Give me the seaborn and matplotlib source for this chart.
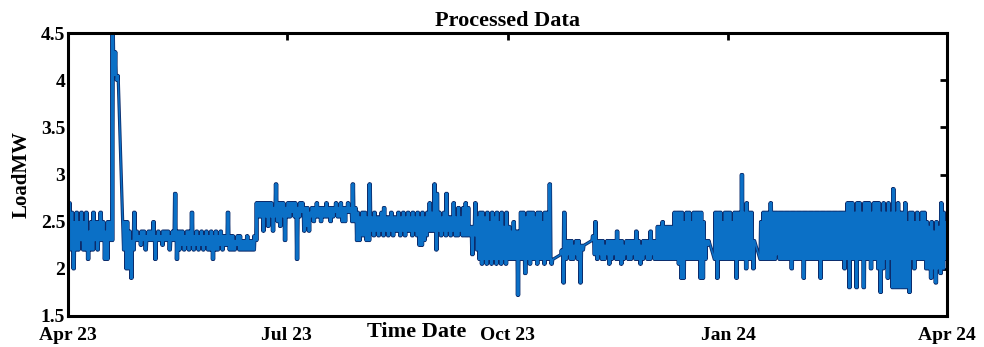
import numpy as np
import pandas as pd
import matplotlib
matplotlib.use("Agg")
import matplotlib.pyplot as plt
import matplotlib.dates as mdates
import matplotlib.patheffects as pe
import seaborn as sns

# Daily load envelope (MW), one entry per day from 1 Apr 2023; NaN marks days without records
start_date = "2023-04-01"
nan = np.nan
daily_low = [
    2.3, 2.2, 2.0, 2.2, 2.2, 2.3, 2.2, 2.2, 2.1, 2.2,
    2.2, 2.3, 2.2, 2.3, 2.3, 2.1, 2.1, 2.3, 2.3, 4.05,
    4.0, nan, nan, 2.2, 2.0, 2.0, 1.9, 2.2, 2.3, 2.3,
    2.25, 2.3, 2.2, 2.3, 2.3, 2.3, 2.1, 2.3, 2.3, 2.25,
    2.3, 2.3, 2.2, 2.3, 2.3, 2.1, 2.2, 2.25, 2.2, 2.25,
    2.2, 2.25, 2.2, 2.25, 2.2, 2.25, 2.2, 2.25, 2.2, 2.2,
    2.1, 2.2, 2.2, 2.25, 2.2, 2.25, 2.25, 2.2, 2.2, 2.2,
    2.25, 2.2, 2.2, 2.2, 2.2, 2.2, 2.2, 2.2, 2.3, 2.55,
    2.55, 2.4, 2.55, 2.45, 2.55, 2.4, 2.55, 2.5, 2.45, 2.55,
    2.3, 2.55, 2.55, 2.6, 2.55, 2.1, 2.55, 2.6, 2.4, 2.45,
    2.4, 2.55, 2.5, 2.55, 2.55, 2.5, 2.55, 2.55, 2.55, 2.5,
    2.55, 2.6, 2.55, 2.55, 2.5, 2.5, 2.6, 2.6, 2.5, 2.5,
    2.3, 2.3, 2.35, 2.35, 2.3, 2.3, 2.4, 2.35, 2.4, 2.35,
    2.4, 2.35, 2.4, 2.35, 2.4, 2.35, 2.4, 2.4, 2.35, 2.4,
    2.35, 2.4, 2.4, 2.35, 2.4, 2.35, 2.25, 2.25, 2.3, 2.35,
    2.4, 2.4, 2.4, 2.2, 2.4, 2.35, 2.4, 2.35, 2.4, 2.35,
    2.4, 2.35, 2.35, 2.4, 2.35, 2.35, 2.35, 2.35, 2.15, 2.35,
    2.2, 2.1, 2.05, 2.1, 2.05, 2.1, 2.05, 2.1, 2.05, 2.1,
    2.05, 2.1, 2.05, 2.1, 2.1, 2.1, 2.1, 1.72, 2.1, 2.1,
    1.95, 2.1, 2.05, 2.1, 2.1, 2.05, 2.1, 2.1, 2.05, 2.1,
    2.1, 2.05, nan, nan, nan, 2.15, 1.85, 2.1, 2.15, 2.1,
    2.1, 2.15, 2.1, 1.85, 2.2, nan, nan, nan, 2.3, 2.15,
    2.1, 2.15, 2.1, 2.1, 2.15, 2.05, 2.1, 2.15, 2.1, 2.1,
    2.05, 2.1, 2.15, 2.1, 2.1, 2.15, 2.1, 2.1, 2.05, 2.1,
    2.15, 2.1, 2.1, 2.15, 2.1, 2.1, 2.1, 2.1, 2.1, 2.1,
    2.1, 2.1, 2.1, 2.1, 2.05, 1.9, 1.9, 2.1, 2.1, 2.1,
    2.1, 2.1, 2.1, 1.9, 1.9, 2.1, 2.25, nan, nan, 2.1,
    1.9, 2.1, 2.1, 2.1, 2.1, 2.1, 2.1, 2.1, 1.9, 2.1,
    2.1, 2.1, 2.0, 2.1, 2.1, 2.0, nan, nan, 2.1, 2.1,
    2.1, 2.1, 2.1, 2.1, 2.1, 2.15, 2.1, 2.1, 2.1, 2.1,
    2.1, 2.0, 2.1, 2.1, 2.1, 2.1, 1.9, 2.1, 2.1, 2.1,
    2.1, 2.1, 2.1, 1.9, 2.1, 2.1, 2.1, 2.1, 2.1, 2.1,
    2.1, 2.1, 2.1, 2.0, 2.1, 1.8, 2.1, 2.1, 1.8, 2.1,
    2.1, 1.8, 2.1, 2.1, 2.0, 2.1, 2.1, 2.0, 1.75, 2.0,
    2.1, 1.9, 2.1, 1.8, 1.8, 1.8, 1.8, 1.8, 1.8, 1.8,
    1.75, 2.1, 2.0, 2.1, 2.1, 2.1, 2.1, 2.0, 2.0, 1.9,
    2.0, 1.85, 2.0, 1.95, 2.0, 2.1,
]
daily_high = [
    2.7, 2.6, 2.5, 2.6, 2.5, 2.6, 2.5, 2.6, 2.4, 2.5,
    2.6, 2.5, 2.5, 2.6, 2.5, 2.4, 2.5, 2.5, 4.5, 4.3,
    4.05, nan, nan, 2.5, 2.5, 2.4, 2.3, 2.6, 2.4, 2.35,
    2.4, 2.4, 2.35, 2.4, 2.4, 2.5, 2.35, 2.4, 2.35, 2.4,
    2.4, 2.4, 2.35, 2.4, 2.8, 2.4, 2.4, 2.4, 2.35, 2.4,
    2.4, 2.6, 2.35, 2.4, 2.35, 2.4, 2.35, 2.4, 2.35, 2.4,
    2.35, 2.4, 2.35, 2.4, 2.35, 2.35, 2.6, 2.35, 2.35, 2.3,
    2.35, 2.35, 2.3, 2.3, 2.35, 2.3, 2.3, 2.35, 2.7, 2.7,
    2.7, 2.7, 2.7, 2.7, 2.7, 2.65, 2.9, 2.7, 2.7, 2.7,
    2.65, 2.7, 2.7, 2.7, 2.7, 2.65, 2.7, 2.7, 2.65, 2.65,
    2.6, 2.65, 2.65, 2.7, 2.65, 2.65, 2.65, 2.7, 2.65, 2.65,
    2.65, 2.7, 2.65, 2.7, 2.65, 2.65, 2.7, 2.65, 2.9, 2.65,
    2.6, 2.55, 2.6, 2.6, 2.55, 2.9, 2.55, 2.6, 2.55, 2.55,
    2.6, 2.65, 2.55, 2.55, 2.6, 2.55, 2.55, 2.6, 2.55, 2.6,
    2.55, 2.6, 2.55, 2.6, 2.55, 2.6, 2.55, 2.6, 2.55, 2.6,
    2.7, 2.6, 2.9, 2.8, 2.6, 2.55, 2.6, 2.8, 2.55, 2.55,
    2.7, 2.55, 2.65, 2.55, 2.65, 2.7, 2.65, 2.45, 2.45, 2.7,
    2.55, 2.6, 2.6, 2.55, 2.6, 2.5, 2.6, 2.55, 2.6, 2.5,
    2.6, 2.45, 2.6, 2.45, 2.4, 2.5, 2.4, 2.4, 2.6, 2.6,
    2.55, 2.6, 2.6, 2.6, 2.55, 2.6, 2.6, 2.5, 2.6, 2.6,
    2.9, 2.1, nan, nan, nan, 2.2, 2.6, 2.3, 2.3, 2.3,
    2.25, 2.3, 2.3, 2.25, 2.25, nan, nan, nan, 2.35, 2.5,
    2.3, 2.3, 2.3, 2.25, 2.3, 2.3, 2.3, 2.3, 2.4, 2.3,
    2.3, 2.25, 2.3, 2.3, 2.3, 2.3, 2.4, 2.3, 2.25, 2.3,
    2.3, 2.3, 2.4, 2.3, 2.3, 2.45, 2.45, 2.5, 2.45, 2.45,
    2.45, 2.45, 2.6, 2.6, 2.6, 2.6, 2.5, 2.6, 2.6, 2.5,
    2.6, 2.6, 2.6, 2.6, 2.5, 2.3, 2.3, nan, nan, 2.6,
    2.6, 2.6, 2.5, 2.6, 2.6, 2.6, 2.5, 2.6, 2.6, 2.6,
    3.0, 2.6, 2.7, 2.6, 2.6, 2.3, nan, nan, 2.5, 2.6,
    2.6, 2.6, 2.7, 2.6, 2.6, 2.6, 2.6, 2.6, 2.6, 2.6,
    2.6, 2.6, 2.6, 2.6, 2.6, 2.6, 2.6, 2.6, 2.6, 2.6,
    2.6, 2.6, 2.6, 2.6, 2.6, 2.6, 2.6, 2.6, 2.6, 2.6,
    2.6, 2.6, 2.6, 2.6, 2.7, 2.7, 2.7, 2.6, 2.7, 2.7,
    2.6, 2.7, 2.7, 2.7, 2.6, 2.7, 2.7, 2.7, 2.6, 2.7,
    2.6, 2.7, 2.6, 2.85, 2.6, 2.7, 2.6, 2.6, 2.7, 2.5,
    2.6, 2.6, 2.5, 2.6, 2.5, 2.6, 2.6, 2.5, 2.45, 2.5,
    2.4, 2.5, 2.45, 2.7, 2.6, 2.5,
]

tick_dates = ["2023-04-01", "2023-07-01", "2023-10-01", "2024-01-01", "2024-04-01"]
y_ticks = [1.5, 2.0, 2.5, 3.0, 3.5, 4.0, 4.5]
y_tick_labels = ["1.5", "2", "2.5", "3", "3.5", "4", "4.5"]

# Four readings per day, swinging between that day's low and high
low = np.asarray(daily_low, dtype=float)
high = np.asarray(daily_high, dtype=float)
day_idx = np.arange(len(low))
day_start = pd.Timestamp(start_date) + pd.to_timedelta(day_idx, unit="D")
times = np.column_stack([day_start + pd.Timedelta(hours=h) for h in (3, 9, 15, 21)]).ravel()
values = np.column_stack([low, high, low, high]).ravel()
df = pd.DataFrame({"Time": pd.to_datetime(times), "Load": values}).dropna()

sns.set_style("white")
plt.rcParams["font.family"] = ["Liberation Serif", "DejaVu Serif"]
plt.rcParams["font.weight"] = "bold"
plt.rcParams["text.color"] = "black"
plt.rcParams["axes.labelcolor"] = "black"

fig = plt.figure(figsize=(9.84, 3.47), dpi=100)
ax = fig.add_axes([68 / 984, 31 / 347, 879 / 984, 283 / 347])

sns.lineplot(
    data=df, x="Time", y="Load", ax=ax, estimator=None, sort=False,
    color="#0b70c6", linewidth=1.1,
    path_effects=[pe.Stroke(linewidth=2.3, foreground="#0c2b6a"), pe.Normal()],
)

ax.set_xlim(pd.Timestamp(tick_dates[0]), pd.Timestamp(tick_dates[-1]))
ax.set_ylim(1.5, 4.5)
ax.set_xticks(pd.to_datetime(tick_dates))
ax.xaxis.set_major_formatter(mdates.DateFormatter("%b %y"))
ax.set_yticks(y_ticks)
ax.set_yticklabels(y_tick_labels)

for spine in ax.spines.values():
    spine.set_visible(True)
    spine.set_color("black")
    spine.set_linewidth(2.2)

ax.tick_params(axis="both", which="major", direction="in", top=True, right=True,
               length=5, width=2, colors="black", labelsize=14)
ax.tick_params(axis="x", pad=8)
ax.tick_params(axis="y", pad=2)
for lbl in ax.get_xticklabels() + ax.get_yticklabels():
    lbl.set_fontweight("bold")

ax.set_title("Processed Data", fontsize=16, fontweight="bold", pad=5, color="black")
ax.set_xlabel("Time Date", fontsize=16, fontweight="bold")
ax.xaxis.set_label_coords(0.397, -0.02)
ax.set_ylabel("LoadMW", fontsize=15, fontweight="bold")
ax.yaxis.set_label_coords(-0.041, 0.5)

fig.savefig("out.png", dpi=100, facecolor="white")
